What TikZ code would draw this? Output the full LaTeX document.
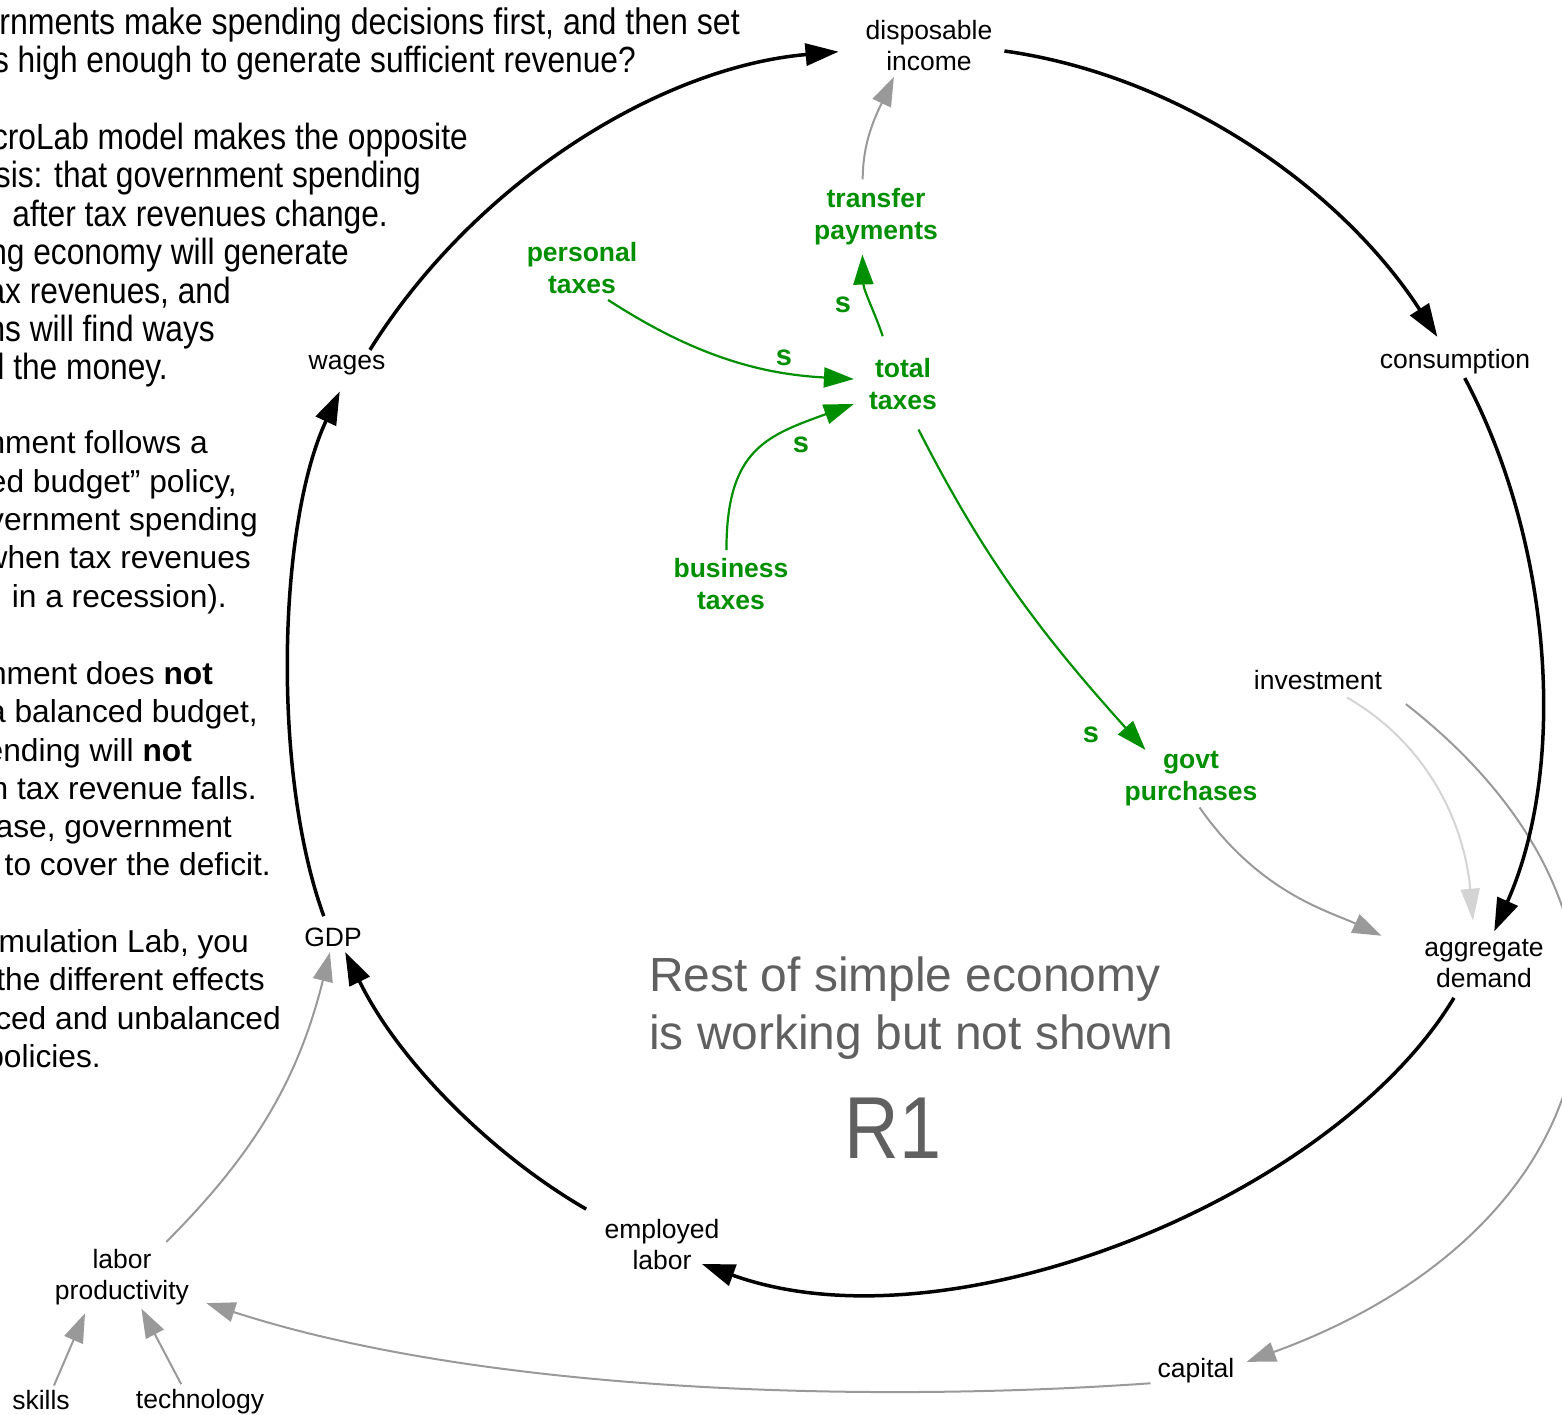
\documentclass[tikz,border=0pt]{standalone}
\usepackage{graphicx}
\usepackage{fontspec}
\setmainfont{Liberation Sans}
\usetikzlibrary{arrows.meta}
\definecolor{taxgreen}{RGB}{0,143,0}
\definecolor{linkgray}{RGB}{153,153,153}
\definecolor{palegray}{RGB}{212,212,212}
\definecolor{notegray}{RGB}{96,96,96}

\begin{document}
\begin{tikzpicture}[x=1pt,y=1pt,
  var/.style={font=\fontsize{26.5}{31}\selectfont, align=center, inner sep=0pt},
  gvar/.style={font=\fontsize{26.5}{32}\selectfont\bfseries, align=center, inner sep=0pt, text=taxgreen},
  pol/.style={font=\fontsize{29}{30}\selectfont\bfseries, text=taxgreen, inner sep=0pt},
  noteline/.style={font=\fontsize{31.7}{38}\selectfont, anchor=base east, inner sep=0pt},
  looplink/.style={line width=3.5pt, draw=black, -{Triangle[length=33pt,width=22pt]}},
  graylink/.style={line width=2pt, draw=linkgray, -{Triangle[length=29pt,width=20pt]}},
  palelink/.style={line width=2pt, draw=palegray, -{Triangle[length=32pt,width=19pt]}},
  greenlink/.style={line width=2.2pt, draw=taxgreen, -{Triangle[length=30pt,width=20pt]}}
]
\useasboundingbox (0,0) rectangle (1562,-1414);

% ---- explanatory text on the left (cut by the page edge)
\node[noteline, font=\fontsize{32.1}{38}\selectfont] (n1) at (740,-34) {\scalebox{1}[1.15]{rnments make spending decisions first, and then set}};
\node[noteline] (n2) at (636,-72) {\scalebox{1}[1.15]{s high enough to generate sufficient revenue?}};
\node[noteline] (n3) at (468,-149) {\scalebox{1}[1.15]{croLab model makes the opposite}};
\node[noteline] (n4) at (421,-187) {\scalebox{1}[1.15]{sis: that government spending}};
\node[noteline] (n5) at (388,-226) {\scalebox{1}[1.15]{after tax revenues change.}};
\node[noteline] (n6) at (349,-264) {\scalebox{1}[1.15]{ng economy will generate}};
\node[noteline] (n7) at (231,-303) {\scalebox{1}[1.15]{ax revenues, and}};
\node[noteline] (n8) at (215,-341) {\scalebox{1}[1.15]{ns will find ways}};
\node[noteline] (n9) at (168,-379) {\scalebox{1}[1.15]{d the money.}};

\node[noteline] (n10) at (208,-453) {nment follows a};
\node[noteline] (n11) at (237,-492) {ed budget” policy,};
\node[noteline] (n12) at (258,-530) {vernment spending};
\node[noteline] (n13) at (251,-568) {when tax revenues};
\node[noteline] (n14) at (227,-607) {in a recession).};

\node[noteline] (n15) at (213,-684) {nment does \textbf{not}};
\node[noteline] (n16) at (258,-722) {a balanced budget,};
\node[noteline] (n17) at (192,-761) {ending will \textbf{not}};
\node[noteline] (n18) at (257,-799) {n tax revenue falls.};
\node[noteline] (n19) at (232,-837) {ase, government};
\node[noteline] (n20) at (271,-875) {to cover the deficit.};

\node[noteline] (n21) at (249,-952) {mulation Lab, you};
\node[noteline] (n22) at (265,-990) {the different effects};
\node[noteline] (n23) at (281,-1029) {ced and unbalanced};
\node[noteline] (n24) at (101,-1067) {policies.};

% ---- variables
\node[var] (dispinc) at (929,-46) {disposable\\income};
\node[var] (consumption) at (1455,-362) {consumption};
\node[var] (aggdem) at (1484,-964) {aggregate\\demand};
\node[var] (employed) at (662,-1245) {employed\\labor};
\node[var] (gdp) at (333,-937) {GDP};
\node[var] (wages) at (347,-365) {wages};
\node[var] (laborprod) at (122,-1277) {labor\\productivity};
\node[var] (skills) at (41,-1400) {skills};
\node[var] (technology) at (200,-1402) {technology};
\node[var] (capital) at (1196,-1371) {capital};
\node[var] (investment) at (1318,-680) {investment};

\node[gvar] (govt) at (1191,-779) {govt\\purchases};
\node[gvar] (total) at (903,-384) {total\\taxes};
\node[gvar] (transfer) at (876,-217) {transfer\\payments};
\node[gvar] (personal) at (582,-268) {personal\\taxes};
\node[gvar] (business) at (731,-584) {business\\taxes};

% ---- centre annotation
\node[font=\fontsize{47.9}{58}\selectfont, text=notegray, align=left, anchor=north west, inner sep=0pt] (rest) at (649,-957) {Rest of simple economy\\is working but not shown};
\node[font=\fontsize{88}{88}\selectfont, text=notegray, inner sep=0pt] (loopname) at (893,-1128) {\scalebox{0.86}[1]{R1}};

% ---- grey links
\draw[graylink, shorten <=9pt, shorten >=6pt] (transfer.115) to[out=90, in=245] (dispinc.218);
\draw[graylink, shorten <=1pt, shorten >=47pt] (govt.-74) to[out=-55, in=155] (aggdem.172);
\draw[palelink, shorten <=15pt, shorten >=19pt] (investment.-32) to[out=-30, in=95] (aggdem.111);
\draw[graylink, shorten <=30pt, shorten >=13pt] (investment.-5) to[out=-38, in=20, looseness=1.45] (capital.7);
\draw[graylink, shorten <=7pt, shorten >=18pt] (capital.197) to[out=184, in=-18, looseness=0.8] (laborprod.-17);
\draw[graylink, shorten <=10pt, shorten >=6pt] (laborprod.37) to[out=45, in=256] (gdp.-100);
\draw[graylink, shorten <=5pt, shorten >=9pt] (skills.42) -- (laborprod.220);
\draw[graylink, shorten <=6pt, shorten >=4pt] (technology.142) -- (laborprod.-58);

% ---- tax links
\draw[greenlink, shorten <=11pt, shorten >=15pt] (personal.-57) to[out=-33, in=177] (total.173);
\draw[greenlink, shorten <=8pt, shorten >=16pt] (business.100) to[out=90, in=200, looseness=1.3] (total.203);
\draw[greenlink, shorten <=23pt, shorten >=9pt] (total.117) to[out=108, in=-88] (transfer.-116);
\draw[greenlink, shorten <=22pt, shorten >=2pt] (total.-78) to[out=-63, in=132] (govt.148);

\node[pol] (s1) at (784,-358) {s};
\node[pol] (s2) at (843,-305) {s};
\node[pol] (s3) at (801,-445) {s};
\node[pol] (s4) at (1091,-735) {s};

% ---- reinforcing loop R1
\draw[looplink, shorten <=6pt, shorten >=27pt] (wages.27) to[out=58, in=185, looseness=0.9] (dispinc.183);
\draw[looplink, shorten <=12pt, shorten >=15pt] (dispinc.-3) to[out=-8, in=123, looseness=0.9] (consumption.127);
\draw[looplink, shorten <=4pt, shorten >=9pt] (consumption.-58) to[out=-62, in=66, looseness=0.86] (aggdem.75);
\draw[looplink, shorten <=11pt, shorten >=-19pt] (aggdem.225) to[out=-121, in=-20, looseness=0.79] (employed.south east);
\draw[looplink, shorten <=21pt, shorten >=6pt] (employed.north west) to[out=150, in=-64, looseness=0.87] (gdp.-45);
\draw[looplink, shorten <=12pt, shorten >=18pt] (gdp.118) to[out=110, in=245, looseness=0.76] (wages.-88);
\end{tikzpicture}
\end{document}
